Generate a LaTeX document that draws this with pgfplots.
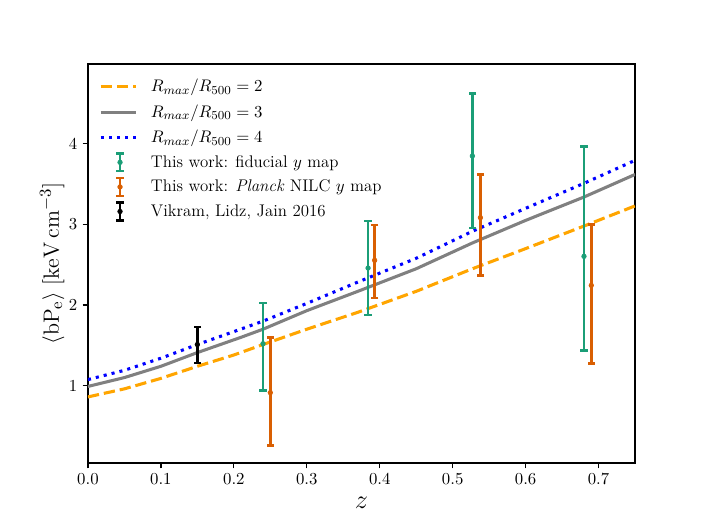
\documentclass[border=0pt]{standalone}
\usepackage{pgfplots}
\pgfplotsset{compat=1.18}
\definecolor{mporange}{HTML}{FFA500}
\definecolor{mpgray}{HTML}{808080}
\definecolor{dgreen}{HTML}{1B9E77}
\definecolor{dorange}{HTML}{D95F02}
\pgfplotsset{
  errleg/.style={legend image code/.code={
    \draw[#1, line width=1.6pt, solid] (12.6pt,-5.8pt) -- (12.6pt,5.8pt);
    \draw[#1, line width=1.6pt, solid] (10.2pt,-5.8pt) -- (15pt,-5.8pt);
    \draw[#1, line width=1.6pt, solid] (10.2pt,5.8pt) -- (15pt,5.8pt);
    \fill[#1] (12.6pt,0pt) circle (1.5pt);
    \path[draw=none] (0pt,0pt) -- (22.8pt,0pt);}},
  errbar/.style={#1, line width=1.6pt, unbounded coords=jump, forget plot},
  errcap/.style={#1, only marks, mark=-, mark size=2.4pt, mark options={line width=1.6pt}, forget plot},
  errpt/.style={#1, only marks, mark=*, mark size=1.5pt, errleg=#1},
}
\begin{document}
\begin{tikzpicture}
\begin{axis}[
  at={(0,0)}, anchor=south west,
  scale only axis, width=357.1pt, height=260.4pt,
  xmin=0, xmax=0.75, ymin=0.04, ymax=4.99,
  xtick={0,0.1,0.2,0.3,0.4,0.5,0.6,0.7},
  ytick={1,2,3,4},
  xticklabel style={/pgf/number format/.cd, fixed, fixed zerofill, precision=1},
  tick align=outside, xtick pos=bottom, ytick pos=left,
  major tick length=3.5pt,
  tick style={line width=0.8pt, black},
  axis line style={line width=0.8pt},
  ticklabel style={font=\fontsize{11}{13}\selectfont},
  xlabel={$z$}, xlabel style={font=\fontsize{16}{18}\selectfont, yshift=-1pt},
  ylabel={$\langle \mathrm{bP_e}\rangle\ [\mathrm{keV\,cm^{-3}}]$},
  ylabel style={font=\fontsize{15.7}{18}\selectfont, yshift=-4pt},
  legend cell align=left,
  legend style={at={(axis description cs:0.02,0.97)}, anchor=north west, draw=none, fill=none,
    font=\fontsize{11}{13}\selectfont, row sep=2.8pt, column sep=7pt, inner sep=0pt},
  legend image code/.code={\draw[#1] (0pt,0pt) -- (22.8pt,0pt);},
]
\addplot[mporange, line width=2pt, dash pattern=on 7.4pt off 3.2pt] coordinates {
 (0,0.86) (0.05,0.96) (0.1,1.09) (0.15,1.24) (0.2,1.38) (0.24,1.51) (0.3,1.70)
 (0.37,1.91) (0.45,2.17) (0.527,2.45) (0.6,2.70) (0.68,2.98) (0.75,3.23)};
\addlegendentry{$R_{max}/R_{500}=2$}
\addplot[mpgray, line width=2pt] coordinates {
 (0,0.99) (0.05,1.10) (0.1,1.24) (0.15,1.41) (0.21,1.60) (0.24,1.70) (0.3,1.93)
 (0.37,2.17) (0.45,2.45) (0.527,2.77) (0.6,3.05) (0.68,3.34) (0.75,3.62)};
\addlegendentry{$R_{max}/R_{500}=3$}
\addplot[blue, line width=2pt, dash pattern=on 2pt off 3.3pt] coordinates {
 (0,1.075) (0.05,1.19) (0.1,1.34) (0.15,1.51) (0.2,1.67) (0.24,1.80) (0.3,2.02)
 (0.37,2.285) (0.45,2.58) (0.527,2.915) (0.6,3.2) (0.68,3.51) (0.75,3.795)};
\addlegendentry{$R_{max}/R_{500}=4$}
% This work: fiducial y map  (x, lower/upper)
\addplot[errbar=dgreen] coordinates {
 (0.240,0.94) (0.240,2.025) (0.240,nan)
 (0.384,1.876) (0.384,3.04) (0.384,nan)
 (0.527,2.955) (0.527,4.627) (0.527,nan)
 (0.680,1.438) (0.680,3.969)};
\addplot[errcap=dgreen] coordinates {
 (0.240,0.94) (0.240,2.025) (0.384,1.876) (0.384,3.04)
 (0.527,2.955) (0.527,4.627) (0.680,1.438) (0.680,3.969)};
\addplot[errpt=dgreen] coordinates {
 (0.240,1.52) (0.384,2.459) (0.527,3.849) (0.680,2.604)};
\addlegendentry{This work: fiducial $y$ map}
% This work: Planck NILC y map
\addplot[errbar=dorange] coordinates {
 (0.250,0.256) (0.250,1.595) (0.250,nan)
 (0.393,2.087) (0.393,2.993) (0.393,nan)
 (0.538,2.369) (0.538,3.618) (0.538,nan)
 (0.690,1.277) (0.690,2.998)};
\addplot[errcap=dorange] coordinates {
 (0.250,0.256) (0.250,1.595) (0.393,2.087) (0.393,2.993)
 (0.538,2.369) (0.538,3.618) (0.690,1.277) (0.690,2.998)};
\addplot[errpt=dorange] coordinates {
 (0.250,0.913) (0.393,2.555) (0.538,3.084) (0.690,2.244)};
\addlegendentry{This work: \textit{Planck} NILC $y$ map}
% Vikram, Lidz, Jain 2016
\addplot[errbar=black] coordinates {(0.15,1.28) (0.15,1.73)};
\addplot[errcap=black] coordinates {(0.15,1.28) (0.15,1.73)};
\addplot[errpt=black] coordinates {(0.15,1.51)};
\addlegendentry{Vikram, Lidz, Jain 2016}
\node[anchor=south west, inner sep=0pt, font=\fontsize{8}{9}\selectfont] at (rel axis cs:0,1) [yshift=3pt] {$\times10^{-7}$};
\end{axis}
\path (-57.4pt,-43.4pt) rectangle (403.4pt,302.2pt);
\end{tikzpicture}
\end{document}
